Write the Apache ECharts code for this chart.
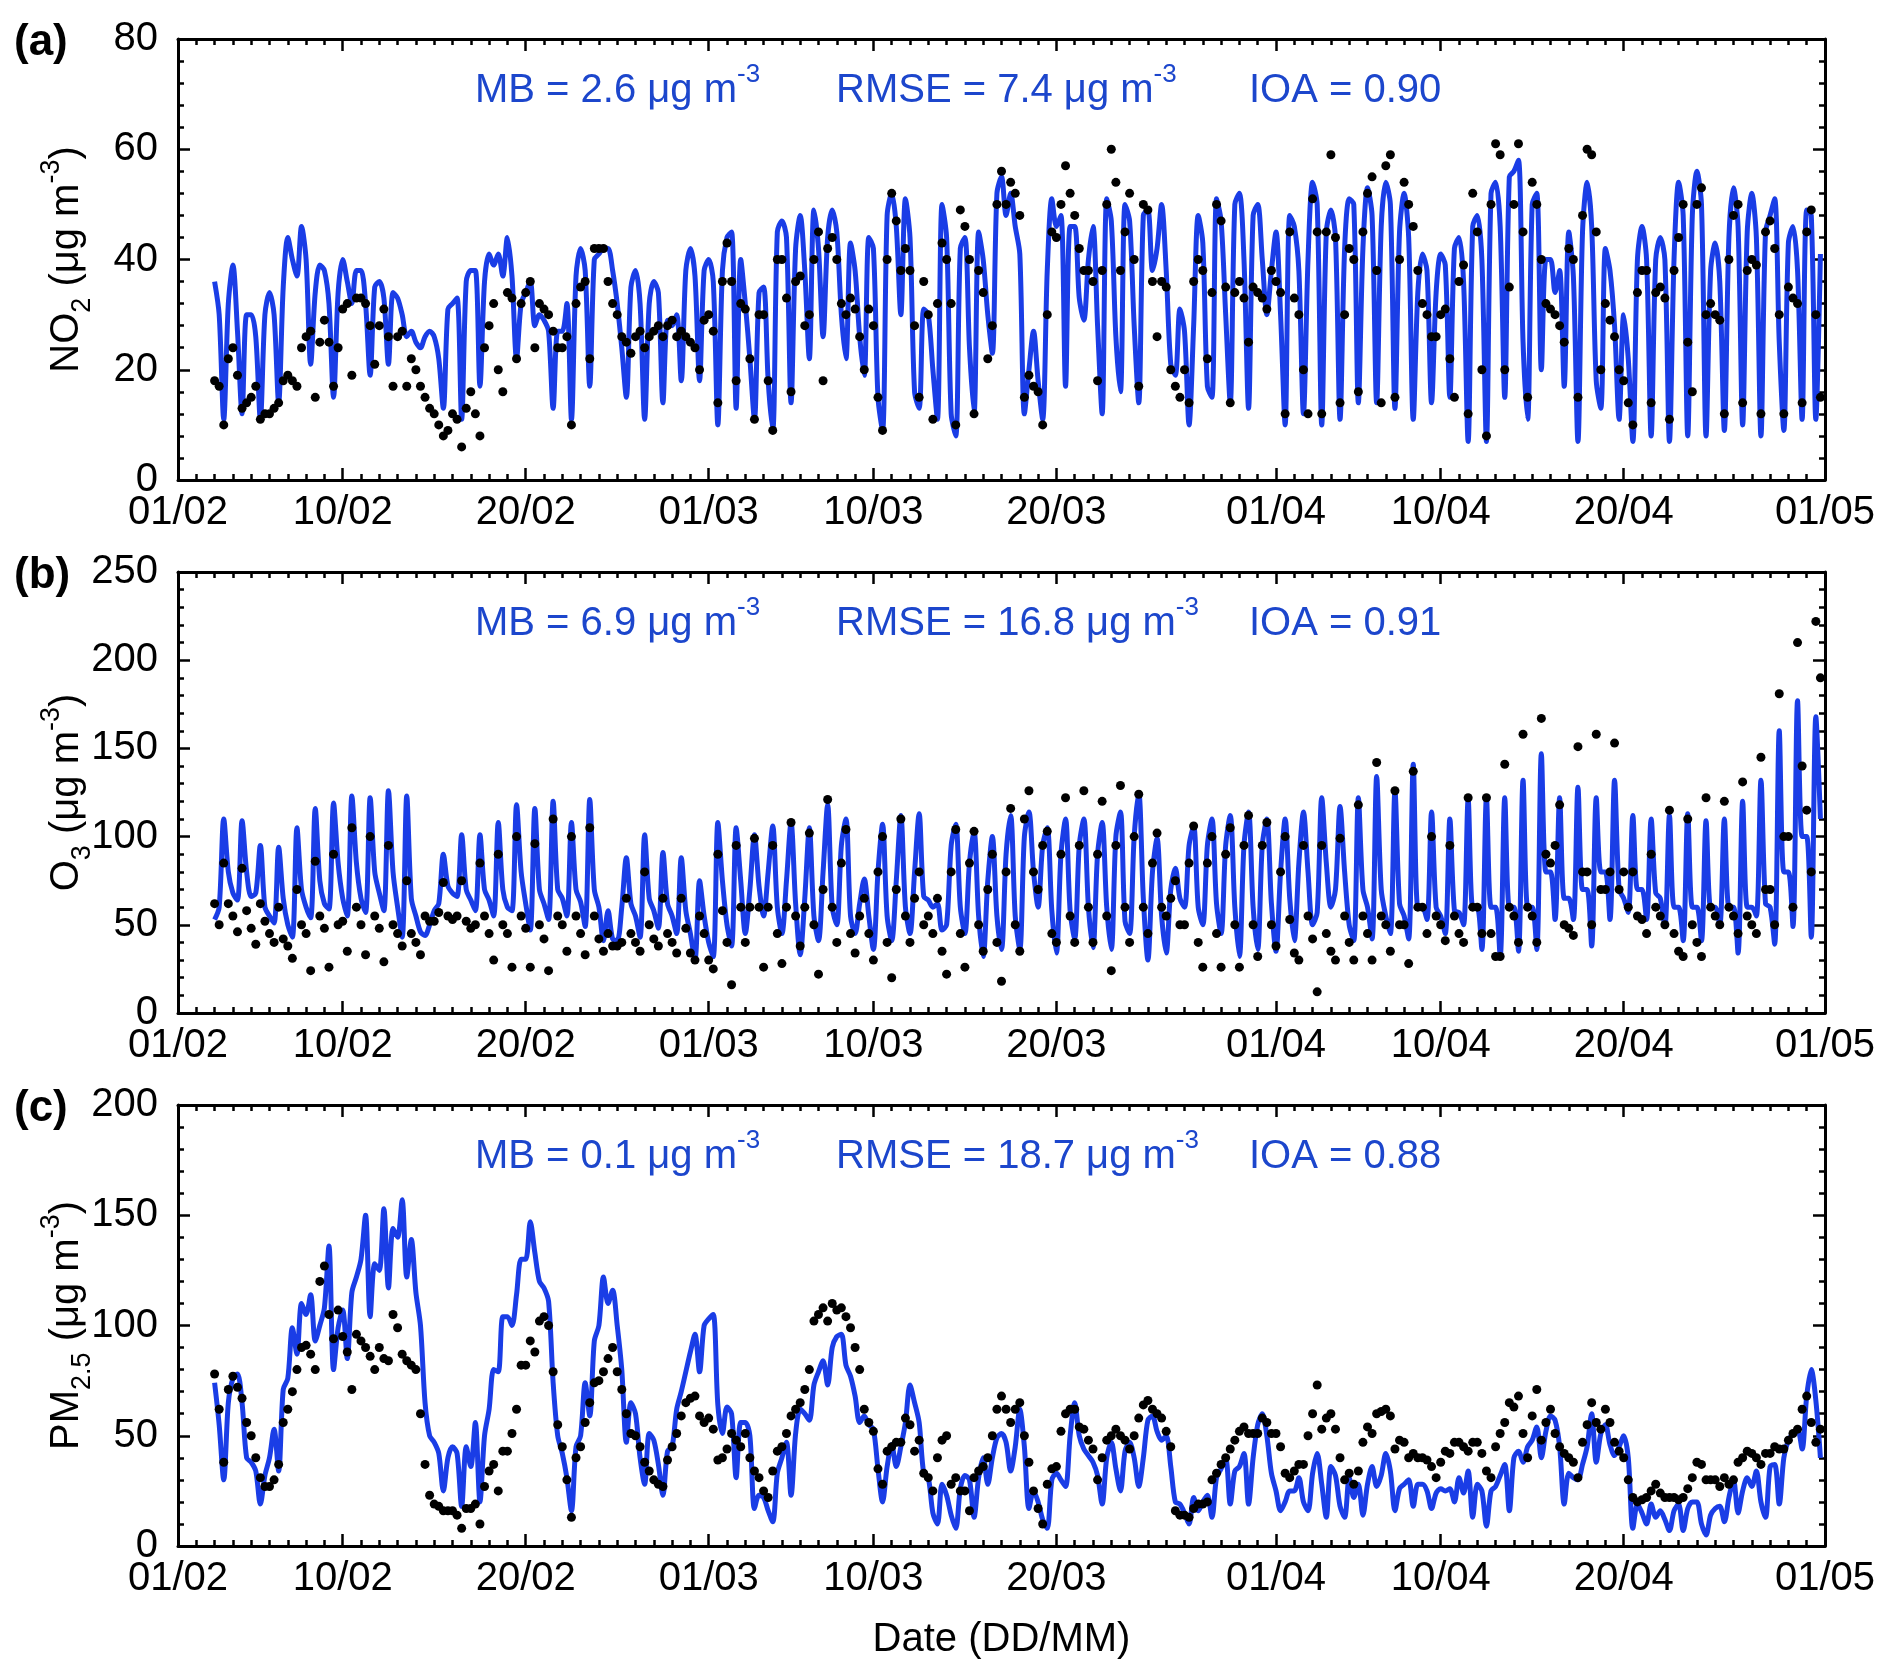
<!DOCTYPE html>
<html>
<head>
<meta charset="utf-8">
<title>NO2, O3 and PM2.5: observed vs modelled</title>
<script src="https://cdn.jsdelivr.net/npm/echarts@6/dist/echarts.min.js"></script>
<style>
  html, body { margin: 0; padding: 0; background: #fff; }
  #chart { width: 1892px; height: 1678px; }
</style>
</head>
<body>
<div id="chart"></div>
<script>
// date ticks (DD/MM, year 2016)
const tickLabels = ['01/02', '10/02', '20/02', '01/03', '10/03', '20/03', '01/04', '10/04', '20/04', '01/05'];

// series are 6-hourly, first sample 03/02 00:00 (day 2 after 01/02)
const firstDay = 2;
const stepDay = 0.25;

// NO2 (ug m-3)
const no2Obs = [
  18,17,10,22, 24,19,13,14, 15,17,11,12, 12,13,14,18,
  19,18,17,24, 26,27,15,25, 29,25,17,24, 31,32,19,33,
  33,32,28,21, 28,31,26,17, 26,27,17,22, 20,17,15,13,
  12,10,8,9, 12,11,6,13, 16,12,8,24, 28,32,20,16,
  34,33,22,32, 34,36,24,32, 31,30,27,24, 24,26,10,32,
  35,36,22,42, 42,42,36,32, 30,26,25,23, 26,27,24,26,
  27,28,26,28, 29,26,27,26, 25,24,20,29, 30,27,14,36,
  43,36,18,32, 31,22,11,30, 30,18,9,40, 40,33,16,36,
  37,28,30,40, 45,18,42,44, 40,32,30,33, 31,26,20,31,
  28,15,9,40, 52,47,38,42, 38,28,15,36, 30,11,32,43,
  40,32,10,49, 46,40,12,38, 34,22,28,50, 56,50,54,52,
  48,15,19,17, 16,10,30,45, 44,50,57,52, 48,42,38,38,
  36,18,38,50, 60,54,38,45, 52,40,17,50, 49,36,26,36,
  35,20,17,15, 20,14,36,40, 38,22,34,50, 47,35,14,34,
  36,33,25,35, 34,33,31,38, 36,34,12,45, 33,30,20,12,
  51,45,12,45, 59,44,14,30, 42,40,16,45, 52,55,38,14,
  57,59,15,40, 54,50,46,38, 32,30,26,26, 30,31,22,15,
  36,39,12,52, 45,20,8,50, 61,59,20,35, 50,61,45,15,
  54,50,40,32, 31,30,28,25, 42,40,15,48, 60,59,45,20,
  32,29,26,20, 18,14,10,34, 38,38,14,34, 35,33,11,38,
  44,50,25,16, 50,53,30,32, 30,29,12,40, 48,50,14,38,
  40,39,12,45, 47,42,30,12, 35,33,32,14, 45,49,30,15
];
const no2Mod = [
  36,30,11,32, 39,27,12,30, 30,26,11,30, 34,30,14,35,
  44,40,37,46, 40,21,34,39, 38,32,15,34, 40,36,32,38,
  38,32,19,35, 36,33,21,34, 33,30,26,27, 25,24,26,27,
  26,22,13,31, 32,33,11,36, 38,38,17,36, 41,39,41,37,
  44,37,22,32, 34,36,28,30, 29,27,13,27, 27,32,11,37,
  42,38,17,40, 41,42,42,38, 32,24,15,35, 38,32,11,32,
  36,34,14,29, 28,30,18,38, 42,37,18,38, 40,36,10,38,
  44,45,13,40, 32,22,11,34, 35,18,9,45, 47,44,14,42,
  48,38,22,49, 42,26,44,49, 45,30,22,43, 38,26,19,44,
  42,15,9,48, 52,46,30,51, 44,16,13,31, 30,20,11,50,
  44,12,8,42, 44,24,12,45, 40,30,23,52, 55,48,52,46,
  41,12,20,27, 18,11,38,51, 46,48,17,46, 46,33,29,40,
  46,28,12,51, 47,26,16,50, 47,28,14,48, 49,38,42,50,
  38,21,19,31, 27,10,28,48, 43,17,15,51, 47,30,14,50,
  52,40,13,48, 50,40,30,38, 45,30,10,48, 46,38,12,40,
  54,50,10,45, 49,44,11,42, 51,50,14,42, 53,48,14,46,
  54,50,13,45, 52,44,11,34, 41,38,14,34, 41,39,15,42,
  44,36,7,46, 48,40,7,52, 54,46,15,55, 56,58,25,11,
  50,52,20,40, 40,34,38,17, 45,37,7,45, 54,46,18,13,
  42,38,28,11, 30,22,7,40, 46,40,8,40, 44,40,7,40,
  54,48,8,48, 56,50,8,38, 43,36,9,44, 53,46,10,45,
  52,44,8,45, 48,51,25,9, 43,46,38,11, 49,48,11,41
];

// O3 (ug m-3)
const o3Obs = [
  62,50,85,62, 55,46,82,58, 48,39,62,52, 45,40,60,42,
  38,31,70,50, 45,24,86,55, 48,26,90,50, 52,35,105,60,
  50,33,100,55, 48,29,95,50, 45,38,75,45, 40,33,55,52,
  52,57,74,55, 53,55,75,52, 48,50,85,55, 45,30,90,50,
  45,26,100,55, 48,26,96,50, 42,24,110,55, 50,35,100,55,
  45,33,105,55, 42,35,45,38, 38,40,65,45, 40,35,80,50,
  42,38,65,45, 40,34,65,48, 34,30,55,45, 30,25,90,58,
  40,16,95,60, 40,60,99,60, 26,60,95,45, 28,60,108,55,
  38,60,102,50, 22,70,121,60, 40,85,104,45, 34,55,65,45,
  30,80,100,40, 20,70,110,55, 40,65,80,50, 55,45,65,35,
  22,80,104,45, 26,85,103,50, 35,70,90,40, 18,80,116,50,
  35,110,126,80, 70,95,103,45, 40,90,122,55, 40,95,126,60,
  40,90,120,55, 24,95,129,60, 40,100,124,60, 45,85,102,60,
  55,65,75,50, 50,85,106,40, 26,85,100,45, 26,90,105,50,
  26,95,112,50, 32,95,108,50, 38,80,100,53, 34,30,95,55,
  42,12,95,45, 35,30,99,55, 40,30,118,55, 45,30,142,55,
  50,35,126,50, 50,28,137,60, 60,45,100,55, 50,41,95,55,
  45,40,122,60, 60,45,122,45, 32,32,141,60, 55,40,158,60,
  55,40,167,90, 85,95,118,50, 48,44,151,80, 80,50,158,70,
  70,80,153,70, 80,60,80,55, 53,45,90,60, 55,50,115,45,
  35,32,110,50, 40,32,122,60, 55,50,120,60, 55,45,131,55,
  50,45,145,70, 70,50,181,100, 100,60,210,140, 115,80,222,190
];
const o3Mod = [
  53,60,110,80, 68,64,109,80, 66,68,95,60, 55,51,94,65,
  50,43,105,70, 60,54,116,75, 62,59,119,85, 65,55,123,85,
  65,57,122,80, 68,58,126,80, 60,43,123,65, 55,46,44,50,
  58,62,90,72, 68,66,101,70, 64,58,101,70, 64,55,108,70,
  60,58,118,80, 62,47,116,70, 62,53,120,70, 65,55,108,70,
  63,49,121,70, 60,41,58,42, 41,60,88,62, 55,43,101,65,
  58,48,91,62, 55,45,88,58, 45,30,75,55, 40,32,108,75,
  50,38,105,75, 45,70,101,72, 55,80,106,60, 45,75,108,62,
  33,65,105,55, 41,80,118,60, 50,95,110,55, 45,62,76,55,
  36,80,107,55, 41,75,112,60, 45,80,113,66, 64,60,62,47,
  50,95,107,60, 45,85,103,55, 32,75,100,55, 36,90,112,55,
  36,100,114,80, 60,95,105,58, 34,90,110,58, 42,95,110,60,
  37,90,108,60, 36,100,114,52, 45,100,125,65, 30,80,99,55,
  34,70,82,65, 60,95,106,60, 50,95,110,62, 45,95,112,60,
  32,95,114,60, 36,95,110,62, 35,80,110,65, 41,85,114,80,
  50,57,122,85, 60,70,117,80, 50,41,122,70, 60,42,134,70,
  55,45,126,62, 55,42,141,60, 60,53,114,60, 55,45,110,58,
  57,50,121,60, 60,36,122,60, 60,32,122,60, 60,35,132,60,
  60,36,147,80, 80,53,122,65, 65,53,128,70, 70,38,122,80,
  80,53,132,70, 65,57,112,70, 70,53,110,68, 65,49,112,60,
  60,41,113,60, 60,41,109,60, 60,50,110,60, 60,34,120,60,
  60,55,132,62, 60,39,160,80, 80,49,177,100, 100,43,168,110
];

// PM2.5 (ug m-3)
const pmObs = [
  78,62,38,71, 77,72,67,56, 50,40,31,27, 27,30,37,56,
  62,70,80,90, 91,87,80,120, 127,105,94,107, 95,88,71,96,
  93,90,86,80, 90,85,84,105, 99,87,84,82, 80,60,37,23,
  19,18,16,16, 16,14,8,17, 17,19,10,27, 34,37,25,43,
  43,51,62,82, 82,93,88,102, 104,100,79,55, 45,30,13,40,
  45,56,65,74, 75,79,85,90, 79,71,60,51, 50,45,38,34,
  30,28,27,39, 45,51,59,65, 67,68,59,56, 58,53,39,40,
  44,51,48,45, 51,40,34,31, 25,22,34,43, 45,51,59,62,
  65,71,80,102, 105,108,102,110, 107,108,104,99, 90,80,62,56,
  52,35,28,43, 45,47,47,58, 55,43,48,33, 31,25,40,48,
  50,28,31,25, 25,16,31,34, 36,40,50,62, 68,62,56,62,
  65,50,38,25, 17,10,28,35, 36,52,60,62, 62,54,53,48,
  44,30,40,48, 50,53,50,48, 44,50,58,64, 66,62,60,58,
  52,45,16,14, 14,13,17,19, 19,20,30,33, 37,40,44,48,
  52,54,51,51, 51,58,56,51, 51,45,33,31, 34,37,37,50,
  60,73,53,58, 60,53,40,30, 33,28,34,47, 54,51,60,61,
  62,59,44,48, 47,40,42,40, 40,39,36,31, 38,43,42,47,
  47,45,43,47, 47,42,34,31, 45,51,56,65, 63,68,51,40,
  59,71,48,56, 62,51,45,42, 40,38,31,47, 55,65,56,53,
  62,56,47,43, 40,30,22,20, 21,22,25,28, 24,22,22,22,
  21,22,26,31, 38,37,30,30, 30,27,31,28, 30,38,40,43,
  42,40,37,42, 42,45,44,44, 48,51,53,62, 68,56,47,53
];
const pmMod = [
  74,55,30,65, 76,78,65,40, 38,34,19,32, 40,53,34,71,
  76,99,87,110, 105,114,93,100, 108,136,80,99, 107,85,115,122,
  130,150,104,128, 125,153,117,144, 140,157,122,139, 115,100,65,50,
  47,42,25,40, 45,42,18,45, 36,56,20,50, 62,80,79,104,
  104,100,114,130, 130,147,133,120, 117,111,74,50, 42,31,16,45,
  50,74,59,93, 100,122,110,116, 100,80,47,65, 60,40,28,51,
  48,37,23,43, 45,62,70,79, 88,96,79,100, 103,105,64,51,
  63,60,31,56, 56,50,17,23, 22,16,11,33, 40,47,23,51,
  62,60,57,73, 79,84,73,90, 95,96,82,77, 68,56,59,55,
  53,35,20,36, 46,36,45,56, 73,65,56,33, 31,15,10,28,
  23,14,8,26, 32,30,13,31, 40,28,40,49, 51,47,34,45,
  62,45,17,25, 20,12,8,30, 33,30,27,50, 65,50,44,41,
  38,32,19,40, 47,35,25,43, 47,40,27,40, 57,59,52,48,
  50,36,20,19, 15,10,22,16, 20,23,13,31, 35,40,19,34,
  36,42,19,40, 55,60,50,33, 25,16,20,25, 25,31,20,16,
  33,42,28,13, 36,32,18,13, 31,22,28,14, 28,36,27,32,
  42,34,16,26, 28,30,18,28, 28,25,17,24, 26,25,26,20,
  31,24,34,13, 28,25,9,25, 27,32,37,16, 40,43,38,45,
  48,54,40,52, 59,57,45,19, 33,31,30,37, 45,60,38,51,
  55,46,41,45, 50,40,8,19, 15,10,19,13, 16,12,7,16,
  19,7,17,20, 20,10,5,14, 17,18,11,22, 30,15,25,31,
  27,34,20,13, 36,37,19,40, 48,51,53,44, 68,80,66,40
];

// statistics printed in each panel
const panelTags = ['(a)', '(b)', '(c)'];
const mbValues = ['2.6', '6.9', '0.1'];
const rmseValues = ['7.4', '16.8', '18.7'];
const ioaValues = ['0.90', '0.91', '0.88'];
const yMax = [80, 250, 200];
const yStep = [20, 50, 50];

const FONT = "'Liberation Sans', Arial, Helvetica, sans-serif";
const BLUE_LINE = '#1a3de6';
const BLUE_TEXT = '#1c46cc';

function dayOf(lbl) {
  const p = lbl.split('/').map(Number);
  return (Date.UTC(2016, p[1] - 1, p[0]) - Date.UTC(2016, 1, 1)) / 864e5;
}
const tickDays = tickLabels.map(dayOf);
const lastDay = tickDays[tickDays.length - 1];

function toPairs(arr) {
  return arr.map((v, i) => [firstDay + i * stepDay, v]);
}

const gridTops = [39, 572, 1105];
const gridH = 441;
const plotLeft = 178, plotRight = 1825;

const obsSets = [no2Obs, o3Obs, pmObs];
const modSets = [no2Mod, o3Mod, pmMod];
const yNames = [
  '{t|NO}{sub|2}{t| (μg m}{sup|-3}{t|)}',
  '{t|O}{sub|3}{t| (μg m}{sup|-3}{t|)}',
  '{t|PM}{sub|2.5}{t| (μg m}{sup|-3}{t|)}'
];

const axisLine = { show: true, onZero: false, lineStyle: { color: '#000', width: 3 } };
const tickStyle = { color: '#000', width: 2.5 };

let grids = [], xAxes = [], yAxes = [], series = [], graphics = [];

gridTops.forEach((top, i) => {
  grids.push({ left: plotLeft, right: 1892 - plotRight, top: top, height: gridH, show: false });
  const base = { gridIndex: i, type: 'value', min: 0, max: lastDay, splitLine: { show: false } };
  // daily ticks, bottom (carries the labels)
  xAxes.push(Object.assign({}, base, {
    position: 'bottom', interval: 1, axisLine: axisLine,
    axisTick: { inside: true, length: 6, lineStyle: tickStyle },
    axisLabel: {
      customValues: tickDays,
      formatter: v => tickLabels[tickDays.indexOf(v)] || '',
      color: '#000', fontSize: 40, fontFamily: FONT, margin: 13
    }
  }));
  // daily ticks, top
  xAxes.push(Object.assign({}, base, {
    position: 'top', interval: 1, axisLine: axisLine,
    axisTick: { inside: true, length: 6, lineStyle: tickStyle },
    axisLabel: { show: false }
  }));
  // long ticks at the labelled dates
  ['bottom', 'top'].forEach(pos => {
    xAxes.push(Object.assign({}, base, {
      position: pos, axisLine: { show: false, onZero: false },
      axisTick: { inside: true, length: 12, customValues: tickDays, lineStyle: tickStyle },
      axisLabel: { show: false }
    }));
  });

  const ybase = {
    gridIndex: i, type: 'value', min: 0, max: yMax[i], interval: yStep[i],
    axisLine: axisLine, splitLine: { show: false }, minorSplitLine: { show: false },
    axisTick: { inside: true, length: 12, lineStyle: tickStyle },
    minorTick: { show: true, splitNumber: 5, length: 6, lineStyle: tickStyle }
  };
  yAxes.push(Object.assign({}, ybase, {
    position: 'left',
    axisLabel: { color: '#000', fontSize: 40, fontFamily: FONT, margin: 20 }
  }));
  yAxes.push(Object.assign({}, ybase, { position: 'right', axisLabel: { show: false } }));

  series.push({
    type: 'line', name: 'model', xAxisIndex: i * 4, yAxisIndex: i * 2,
    data: toPairs(modSets[i]), showSymbol: false, smooth: 0.3,
    lineStyle: { color: BLUE_LINE, width: 5 }, z: 2, animation: false
  });
  series.push({
    type: 'scatter', name: 'observed', xAxisIndex: i * 4, yAxisIndex: i * 2,
    data: toPairs(obsSets[i]), symbol: 'circle', symbolSize: 9,
    itemStyle: { color: '#000', opacity: 1 }, z: 3, animation: false
  });

  // panel tag
  graphics.push({
    type: 'text', x: 14, y: top + 4,
    style: { text: panelTags[i], font: 'bold 44px ' + FONT, fill: '#000', verticalAlign: 'middle' }
  });
  // y axis title
  graphics.push({
    type: 'text', x: 67, y: top + gridH / 2, rotation: Math.PI / 2,
    style: {
      text: yNames[i], align: 'center', verticalAlign: 'middle',
      rich: {
        t: { fontSize: 40, fontFamily: FONT, fill: '#000', lineHeight: 58 },
        sub: { fontSize: 27, fontFamily: FONT, fill: '#000', verticalAlign: 'bottom' },
        sup: { fontSize: 27, fontFamily: FONT, fill: '#000', verticalAlign: 'top' }
      }
    }
  });
  // statistics
  const statRich = {
    t: { fontSize: 40, fontFamily: FONT, fill: BLUE_TEXT, lineHeight: 58 },
    sup: { fontSize: 26, fontFamily: FONT, fill: BLUE_TEXT, verticalAlign: 'top' }
  };
  const statTexts = [
    [475, '{t|MB = ' + mbValues[i] + ' μg m}{sup|-3}'],
    [836, '{t|RMSE = ' + rmseValues[i] + ' μg m}{sup|-3}'],
    [1249, '{t|IOA = ' + ioaValues[i] + '}']
  ];
  statTexts.forEach(s => {
    graphics.push({
      type: 'text', x: s[0], y: top + 52,
      style: { text: s[1], align: 'left', verticalAlign: 'middle', rich: statRich }
    });
  });
});

graphics.push({
  type: 'text', x: (plotLeft + plotRight) / 2, y: 1640,
  style: { text: 'Date (DD/MM)', font: '40px ' + FONT, fill: '#000', align: 'center', verticalAlign: 'middle' }
});

const chart = echarts.init(document.getElementById('chart'), null, { renderer: 'canvas' });
chart.setOption({
  backgroundColor: '#fff',
  animation: false,
  grid: grids,
  xAxis: xAxes,
  yAxis: yAxes,
  series: series,
  graphic: graphics
});
</script>
</body>
</html>
